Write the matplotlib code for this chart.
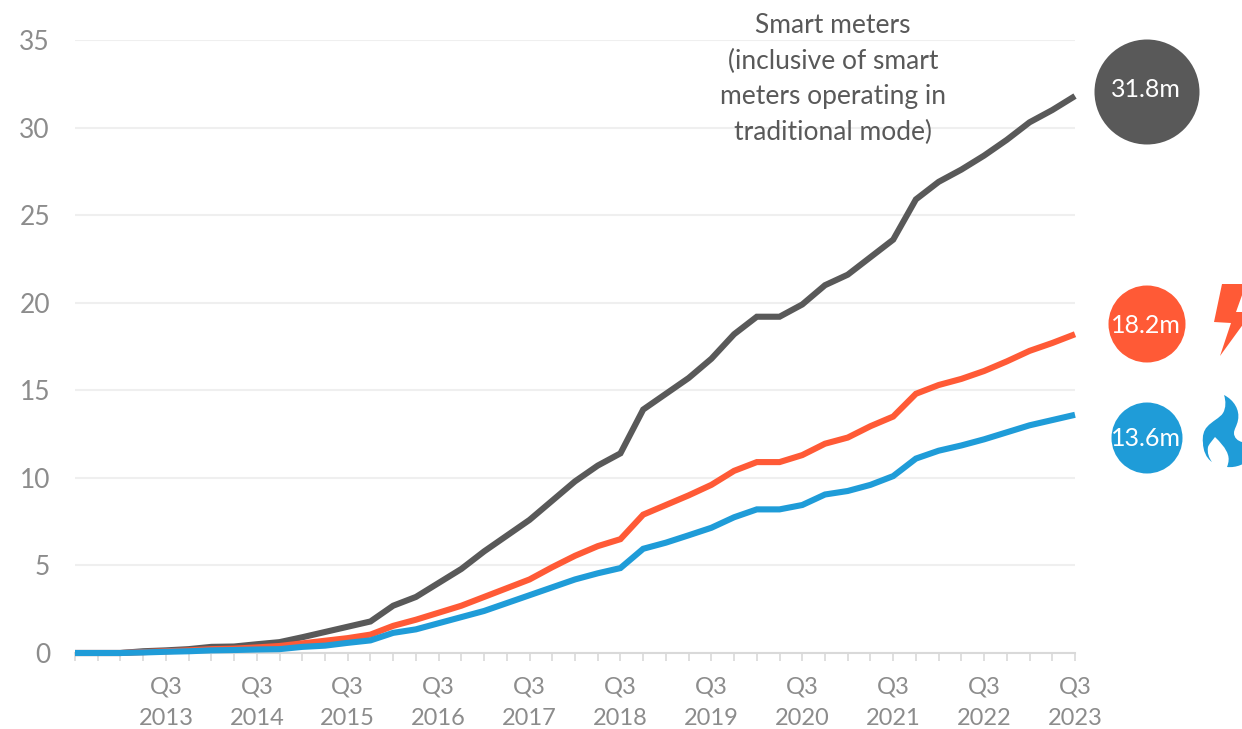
import matplotlib
matplotlib.use('Agg')
import matplotlib.pyplot as plt
from matplotlib.patches import Circle, Polygon, PathPatch
from matplotlib.path import Path

plt.rcParams['font.family'] = ['Lato', 'DejaVu Sans']

smart = [0, 0, 0, 0.1, 0.15, 0.22, 0.35, 0.37, 0.5, 0.62, 0.9, 1.2, 1.5, 1.8, 2.7, 3.2, 4.0, 4.8, 5.8, 6.7, 7.6, 8.7, 9.8,
         10.7, 11.4, 13.9, 14.8, 15.7, 16.8, 18.2, 19.2, 19.2, 19.9, 21.0, 21.6, 22.6, 23.6, 25.9, 26.9, 27.6, 28.4,
         29.3, 30.3, 31.0, 31.8]
elec = [0, 0, 0, 0.05, 0.1, 0.15, 0.22, 0.25, 0.32, 0.4, 0.55, 0.7, 0.85, 1.05, 1.55, 1.9, 2.3, 2.7, 3.2, 3.7, 4.2, 4.9,
        5.55, 6.1, 6.5, 7.9, 8.45, 9.0, 9.6, 10.4, 10.9, 10.9, 11.3, 11.95, 12.3, 12.95, 13.5, 14.8, 15.3, 15.65, 16.1,
        16.65, 17.25, 17.7, 18.2]
gas = [0, 0, 0, 0.03, 0.07, 0.1, 0.15, 0.17, 0.2, 0.22, 0.35, 0.42, 0.58, 0.72, 1.15, 1.35, 1.7, 2.05, 2.4, 2.85, 3.3,
       3.75, 4.2, 4.55, 4.85, 5.95, 6.3, 6.72, 7.15, 7.75, 8.2, 8.2, 8.45, 9.05, 9.25, 9.6, 10.1, 11.1, 11.55, 11.85,
       12.2, 12.6, 13.0, 13.3, 13.6]
years = [2013, 2014, 2015, 2016, 2017, 2018, 2019, 2020, 2021, 2022, 2023]
yticks = [0, 5, 10, 15, 20, 25, 30, 35]

DARK = '#595959'
RED = '#ff5a36'
BLUE = '#1f9cd8'
GREY = '#8c8c8c'
W, H = 1242, 729

fig = plt.figure(figsize=(W / 100, H / 100), dpi=100)
ax = fig.add_axes([75 / W, (H - 653) / H, 1000 / W, 613 / H])
x = list(range(len(smart)))
for vals, col, z in [(smart, DARK, 3), (elec, RED, 4), (gas, BLUE, 5)]:
    ax.plot(x, vals, color=col, lw=4.4, solid_joinstyle='miter', solid_capstyle='butt', clip_on=False, zorder=z)
ax.set_xlim(0, 44)
ax.set_ylim(0, 35)
ax.set_yticks(yticks)
ax.set_xticks(x)
ax.set_xticklabels(['Q3\n%d' % years[(i - 4) // 4] if i >= 4 and (i - 4) % 4 == 0 else '' for i in x])
ax.grid(axis='y', color='#efefef', lw=1.5)
ax.set_axisbelow(True)
for s in ['top', 'left', 'right']:
    ax.spines[s].set_visible(False)
ax.spines['bottom'].set_color('#d9d9d9')
ax.spines['bottom'].set_linewidth(1.5)
ax.tick_params(axis='y', length=0, pad=18, labelsize=19, labelcolor=GREY)
ax.tick_params(axis='x', length=6, width=1.2, color='#d9d9d9', pad=11, labelsize=17, labelcolor=GREY)
for lab in ax.get_xticklabels():
    lab.set_linespacing(1.62)

# overlay in pixel coords for the callouts
ov = fig.add_axes([0, 0, 1, 1])
ov.set_xlim(0, W)
ov.set_ylim(H, 0)
ov.axis('off')
ov.text(833, 79, 'Smart meters\n(inclusive of smart\nmeters operating in\ntraditional mode)', ha='center', va='center',
        fontsize=19, color='#595959', linespacing=1.53)
for cx, cy, r, col, txt, ty in [(1147, 92, 52.5, DARK, '31.8m', 89), (1147, 324, 38.5, RED, '18.2m', 325),
                                (1147, 438, 35.5, BLUE, '13.6m', 438)]:
    ov.add_patch(Circle((cx, cy), r, color=col, lw=0))
    ov.text(cx - 1, ty, txt, color='white', ha='center', va='center', fontsize=18)
ov.add_patch(Polygon([(1222, 284), (1246, 284), (1236, 312), (1252, 312), (1220, 356), (1231, 323), (1214, 322)], color=RED, lw=0))
C = Path.CURVE4
flame = Path([(1224, 395), (1234, 400), (1240, 410), (1238, 420),
              (1237, 426), (1234, 429), (1234, 433),
              (1234, 438), (1238, 441), (1242, 442),
              (1248, 442), (1250, 450), (1250, 458),
              (1246, 464), (1236, 468), (1227, 467),
              (1229, 462), (1229, 458), (1228, 455),
              (1226, 448), (1220, 442), (1215, 437),
              (1212, 441), (1209, 444), (1208, 447),
              (1207, 453), (1209, 458), (1212, 462),
              (1206, 458), (1203, 450), (1203, 443),
              (1202, 436), (1204, 430), (1207, 427),
              (1212, 421), (1220, 418), (1223, 413),
              (1226, 408), (1226, 401), (1224, 395)],
             [Path.MOVETO] + [C] * 39)
ov.add_patch(PathPatch(flame, color=BLUE, lw=0))

fig.savefig('out.png', dpi=100)
